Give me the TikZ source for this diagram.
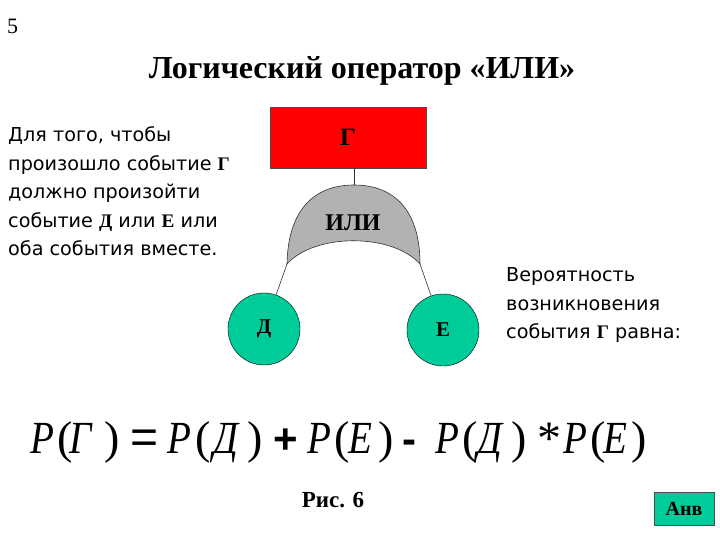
\documentclass[tikz,border=0pt]{standalone}
\usepackage{fontspec}
\setmainfont{Liberation Serif}
\newfontfamily\bodyfont{DejaVu Sans}
\newfontfamily\opfont{Liberation Sans}
\newfontfamily\fitfont[FakeStretch=0.85]{Liberation Serif Italic}
\definecolor{teal1}{RGB}{0,204,153}
\definecolor{gategray}{RGB}{178,178,178}
\tikzset{
  body/.style={font=\bodyfont\fontsize{19.2}{28.5}\selectfont, inner sep=0pt, anchor=base west},
  circ/.style={circle, draw=black, fill=teal1, minimum size=72pt, inner sep=0pt, font=\bfseries\fontsize{21}{21}\selectfont},
  ftxt/.style={font=\fitfont\fontsize{46}{46}\selectfont, inner sep=0pt, anchor=base west},
  fpar/.style={font=\fontsize{46}{46}\selectfont, inner sep=0pt, anchor=base west},
  fop/.style={font=\opfont\bfseries\fontsize{42}{42}\selectfont, inner sep=0pt, anchor=base west},
  conn/.style={draw=black!80, line width=0.6pt}
}
\newcommand{\bG}{{\rmfamily\bfseries Г}}
\begin{document}
\begin{tikzpicture}[x=1pt,y=-1pt]
\useasboundingbox (0,0) rectangle (720,540);
\node[font=\fontsize{22}{22}\selectfont, anchor=base west, inner sep=0pt] (num) at (7,34) {5};
\node[font=\bfseries\fontsize{32}{32}\selectfont, anchor=base, inner sep=0pt] (title) at (362,78.5) {Логический оператор «ИЛИ»};
% left text
\node[body] (l1) at (8,141.7) {Для того, чтобы};
\node[body] (l2) at (8,170.2) {произошло событие \bG};
\node[body] (l3) at (8,198.7) {должно произойти};
\node[body] (l4) at (8,227.2) {событие {\rmfamily\bfseries Д} или {\rmfamily\bfseries Е} или};
\node[body] (l5) at (8,255.7) {оба события вместе.};
% right text
\node[body] (r1) at (506,281.7) {Вероятность};
\node[body] (r2) at (506,310.2) {возникновения};
\node[body] (r3) at (506,338.7) {события \bG\ равна:};
% tree
\node[rectangle, draw=black!70, fill=red, minimum width=156pt, minimum height=61pt, inner sep=0pt, font=\bfseries\fontsize{25}{25}\selectfont] (G) at (348,137.5) {Г};
\coordinate (gt) at (354,185);
\coordinate (gl) at (287,264);
\coordinate (gr) at (420,264);
\draw[fill=gategray, draw=black!80, line width=0.6pt] (gl) .. controls (288,210) and (314,185) .. (gt) .. controls (394,185) and (420,210) .. (gr) .. controls (392,233) and (315,233) .. (gl) -- cycle;
\node[font=\bfseries\fontsize{24}{24}\selectfont, inner sep=0pt] (ili) at (353,223) {ИЛИ};
\node[circ] (D) at (264,329) {Д};
\node[circ] (E) at (443,330) {Е};
\draw[conn] (G.south -| gt) -- (gt);
\draw[conn] (gl) -- (D);
\draw[conn] (gr) -- (E);
% formula
\node[ftxt] (a1) at (30,453) {P};
\node[fpar] (a2) at (57,453) {(};
\node[ftxt] (a3) at (69,453) {Г};
\node[fpar] (a4) at (104,453) {)};
\node[fop, font=\opfont\fontsize{48}{48}\selectfont] (eq) at (130,453) {=};
\node[ftxt] (b1) at (167,453) {P};
\node[fpar] (b2) at (195,453) {(};
\node[ftxt] (b3) at (213,453) {Д};
\node[fpar] (b4) at (247,453) {)};
\node[fop] (plus) at (273,453) {+};
\node[ftxt] (c1) at (307,453) {P};
\node[fpar] (c2) at (334,453) {(};
\node[ftxt] (c3) at (348,453) {E};
\node[fpar] (c4) at (378,453) {)};
\node[fop] (minus) at (402,453) {-};
\node[ftxt] (d1) at (435,453) {P};
\node[fpar] (d2) at (462,453) {(};
\node[ftxt] (d3) at (477,453) {Д};
\node[fpar] (d4) at (511,453) {)};
\node[font=\fontsize{48}{48}\selectfont, inner sep=0pt, anchor=base west] (star) at (537,454) {*};
\node[ftxt] (e1) at (563,453) {P};
\node[fpar] (e2) at (590,453) {(};
\node[ftxt] (e3) at (603,453) {E};
\node[fpar] (e4) at (631,453) {)};
\node[font=\bfseries\fontsize{23}{23}\selectfont, anchor=base, inner sep=0pt] (ris) at (333,507) {Рис. 6};
\node[rectangle, draw=black!70, fill=teal1, minimum width=60pt, minimum height=33pt, inner sep=0pt, font=\bfseries\fontsize{20}{20}\selectfont] (anv) at (684,508.5) {Анв};
\end{tikzpicture}
\end{document}
